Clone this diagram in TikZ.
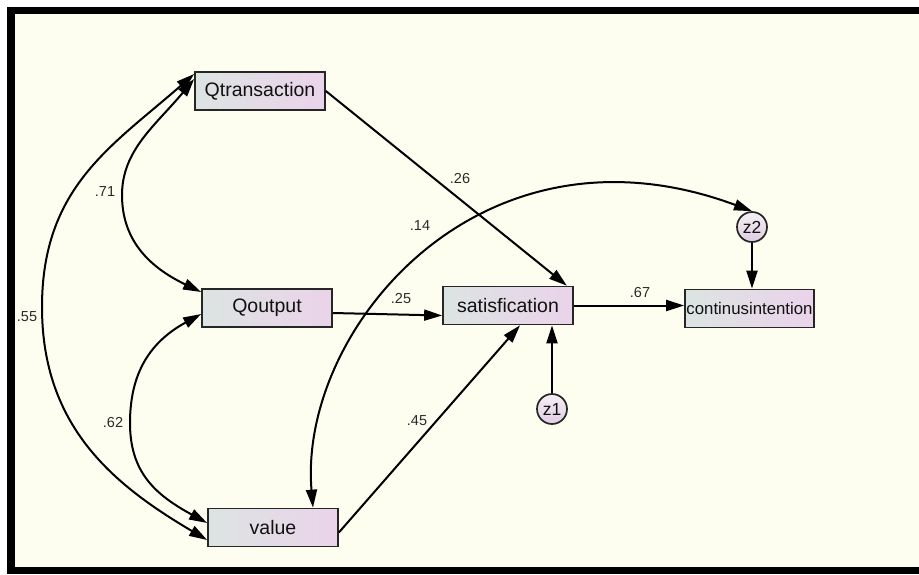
\documentclass[tikz,border=0pt]{standalone}
\usepackage{fontspec}
\setmainfont{Liberation Sans}
\usetikzlibrary{arrows.meta, calc}
\definecolor{cIvory}   {HTML}{FDFEF0}
\definecolor{cBoxL}    {HTML}{DCE4E2}
\definecolor{cBoxR}    {HTML}{EBD3EA}
\definecolor{cCircTop} {HTML}{F4F0F4}
\definecolor{cCircBot} {HTML}{E0CCE3}
\definecolor{cText}    {HTML}{111111}
\definecolor{cCoef}    {HTML}{2A2A2A}

\begin{document}
\begin{tikzpicture}[x=1pt, y=-1pt,
  obsbox/.style={draw=black!85, line width=1.7pt, left color=cBoxL, right color=cBoxR,
    minimum width=130pt, minimum height=38pt, inner sep=0pt,
    font=\fontsize{19.5}{22}\selectfont, text=cText},
  errnode/.style={circle, draw=black!85, line width=1.7pt, top color=cCircTop,
    bottom color=cCircBot, minimum size=30pt, inner sep=0pt,
    font=\fontsize{17.5}{20}\selectfont, text=cText},
  regpath/.style={-{Triangle[length=18pt, width=11pt]}, line width=2pt},
  covpath/.style={{Triangle[length=18pt, width=11pt]}-{Triangle[length=18pt, width=11pt]},
    line width=2pt},
  coef/.style={font=\fontsize{14.5}{17}\selectfont, text=cCoef},
]
  % frame and canvas
  \fill[white] (0,0) rectangle (919,574);
  \fill[cIvory] (15,14) rectangle (919,567);
  \fill[black] (7,7) rectangle (919,14);
  \fill[black] (7,7) rectangle (15,574);
  \fill[black] (7,567) rectangle (919,574);
  \useasboundingbox (0,0) rectangle (919,574);

  % observed variables
  \node[obsbox] (qtrans) at (260, 91)    {Qtransaction};
  \node[obsbox] (qout)   at (267, 308)   {Qoutput};
  \node[obsbox] (value)  at (273, 527.5) {value};
  \node[obsbox] (satis)  at (508, 305.5) {satisfication};
  \node[obsbox, minimum width=129pt, font=\fontsize{16.8}{20}\selectfont]
                (cont)   at (749.5, 308.5) {continusintention};

  % error terms
  \node[errnode] (z1) at (552, 409) {z1};
  \node[errnode] (z2) at (752, 227) {z2};

  % regression paths
  \draw[regpath] (qtrans.east) -- ($(satis.north east)+(-7,0)$);
  \draw[regpath] ($(qout.east)+(0,5)$) -- ($(satis.west)+(0,10)$);
  \draw[regpath] ($(value.east)+(0,5)$) -- ($(satis.south)+(12,0)$);
  \draw[regpath] (satis.east) -- (satis.east -| cont.west);
  \draw[regpath] (z1.north) -- (z1 |- satis.south);
  \draw[regpath] (z2.south) -- (z2 |- cont.north);

  % covariances
  \draw[covpath] ($(qtrans.west)+(0,-12)$) .. controls (156,125) and (122,150) .. (122,195)
    .. controls (122,240) and (149,267) .. ($(qout.west)+(0,-16)$);
  \draw[covpath] ($(qout.west)+(0,6)$) .. controls (150,342) and (130,373) .. (130,423)
    .. controls (130,473) and (156,495) .. ($(value.west)+(0,-4.5)$);
  \draw[covpath] ($(qtrans.west)+(0,-17)$) .. controls (112,146) and (42,187) .. (42,307)
    .. controls (42,427) and (114,485) .. ($(value.west)+(0,12.5)$);
  \draw[covpath] ($(value.north)+(40,0)$) .. controls (298,330) and (480,110) .. (z2.north);

  % estimates
  \node[coef] (c26) at (460, 179) {.26};
  \node[coef] (c14) at (420, 226) {.14};
  \node[coef] (c25) at (401, 299) {.25};
  \node[coef] (c45) at (417, 421) {.45};
  \node[coef] (c67) at (640, 293) {.67};
  \node[coef] (c71) at (105, 192) {.71};
  \node[coef] (c62) at (113, 423) {.62};
  \node[coef] (c55) at (27, 317)  {.55};
\end{tikzpicture}
\end{document}
